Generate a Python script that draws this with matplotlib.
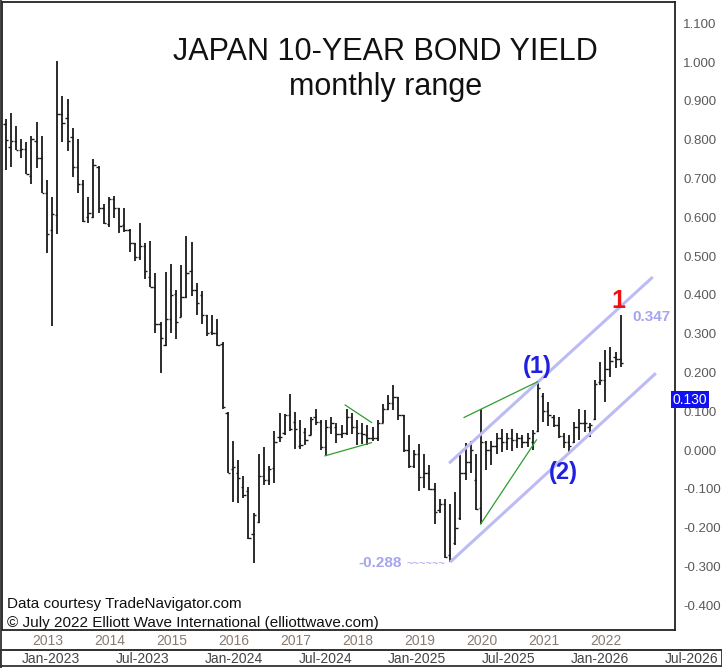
import numpy as np
import matplotlib
matplotlib.use("Agg")
import matplotlib.pyplot as plt
from matplotlib.lines import Line2D
import matplotlib.transforms as mtransforms

plt.rcParams['font.family'] = ['Liberation Sans', 'DejaVu Sans']

# monthly bars, Jul-2012 .. Jun-2022 (months counted from Jan-2012 = 0)
first_month = 6
opens = [0.840, 0.782, 0.796, 0.773, 0.776, 0.706, 0.796, 0.752, 0.662, 0.567,
         0.606, 0.866, 0.855, 0.807, 0.729, 0.687, 0.601, 0.601, 0.730, 0.623,
         0.582, 0.646, 0.623, 0.580, 0.567, 0.534, 0.497, 0.526, 0.447, 0.420,
         0.326, 0.270, 0.337, 0.402, 0.342, 0.394, 0.462, 0.412, 0.399, 0.347,
         0.305, 0.302, 0.273, 0.096, -0.050, -0.060, -0.095, -0.105, -0.216, -0.185,
         -0.067, -0.077, -0.047, 0.033, 0.045, 0.090, 0.073, 0.010, 0.047, 0.040,
         0.086, 0.073, 0.009, 0.060, 0.060, 0.041, 0.045, 0.086, 0.060, 0.045,
         0.040, 0.030, 0.030, 0.069, 0.105, 0.120, 0.137, 0.090, 0.000, -0.040,
         -0.010, -0.070, -0.060, -0.100, -0.155, -0.140, -0.270, -0.240, -0.175, -0.060,
         -0.030, -0.077, -0.150, 0.020, 0.000, 0.010, 0.030, 0.020, 0.030, 0.025,
         0.030, 0.020, 0.020, 0.050, 0.140, 0.100, 0.085, 0.065, 0.035, 0.020,
         0.020, 0.060, 0.070, 0.060, 0.080, 0.175, 0.180, 0.210, 0.240, 0.235]
highs = [0.853, 0.870, 0.836, 0.801, 0.793, 0.809, 0.846, 0.809, 0.696, 0.653,
         1.003, 0.913, 0.904, 0.829, 0.803, 0.696, 0.653, 0.750, 0.732, 0.634,
         0.653, 0.655, 0.625, 0.623, 0.571, 0.534, 0.586, 0.533, 0.539, 0.457,
         0.331, 0.459, 0.479, 0.412, 0.477, 0.552, 0.537, 0.430, 0.410, 0.348,
         0.347, 0.339, 0.279, 0.099, 0.024, -0.026, -0.067, -0.095, -0.162, -0.010,
         0.009, -0.041, 0.050, 0.095, 0.094, 0.144, 0.099, 0.077, 0.056, 0.086,
         0.105, 0.077, 0.077, 0.086, 0.070, 0.064, 0.105, 0.095, 0.077, 0.069,
         0.064, 0.060, 0.077, 0.119, 0.142, 0.168, 0.137, 0.090, 0.039, 0.000,
         0.015, -0.009, -0.039, -0.086, -0.125, -0.125, -0.139, -0.107, -0.013, 0.019,
         0.024, -0.009, 0.105, 0.022, 0.022, 0.045, 0.053, 0.045, 0.053, 0.045,
         0.039, 0.045, 0.052, 0.176, 0.148, 0.125, 0.090, 0.086, 0.045, 0.039,
         0.073, 0.107, 0.103, 0.069, 0.180, 0.228, 0.258, 0.266, 0.253, 0.348]
lows = [0.722, 0.730, 0.773, 0.754, 0.711, 0.687, 0.726, 0.662, 0.507, 0.320,
        0.558, 0.795, 0.771, 0.704, 0.662, 0.588, 0.584, 0.597, 0.610, 0.582,
        0.574, 0.597, 0.560, 0.563, 0.511, 0.488, 0.491, 0.440, 0.421, 0.301,
        0.198, 0.268, 0.301, 0.285, 0.342, 0.391, 0.397, 0.348, 0.325, 0.294,
        0.296, 0.268, 0.107, -0.060, -0.133, -0.136, -0.124, -0.230, -0.290, -0.187,
        -0.090, -0.090, -0.084, 0.021, 0.039, 0.050, 0.002, 0.002, 0.012, 0.039,
        0.064, 0.000, -0.013, 0.041, 0.017, 0.030, 0.039, 0.041, 0.013, 0.015,
        0.013, 0.022, 0.024, 0.069, 0.103, 0.103, 0.077, -0.004, -0.047, -0.047,
        -0.105, -0.099, -0.103, -0.191, -0.163, -0.279, -0.288, -0.245, -0.180, -0.077,
        -0.060, -0.155, -0.191, -0.052, -0.039, -0.009, -0.004, 0.000, -0.002, 0.004,
        0.004, 0.009, 0.000, 0.047, 0.073, 0.062, 0.060, 0.030, 0.004, -0.004,
        0.017, 0.026, 0.047, 0.034, 0.077, 0.168, 0.125, 0.189, 0.211, 0.215]
closes = [0.800, 0.796, 0.773, 0.776, 0.711, 0.803, 0.752, 0.662, 0.557, 0.608,
          0.866, 0.844, 0.796, 0.729, 0.686, 0.591, 0.612, 0.735, 0.623, 0.585,
          0.646, 0.623, 0.577, 0.567, 0.534, 0.497, 0.526, 0.462, 0.421, 0.326,
          0.288, 0.337, 0.399, 0.331, 0.395, 0.457, 0.412, 0.378, 0.348, 0.302,
          0.301, 0.271, 0.110, -0.058, -0.043, -0.073, -0.116, -0.228, -0.168, -0.067,
          -0.077, -0.050, 0.021, 0.034, 0.090, 0.053, 0.053, 0.012, 0.025, 0.079,
          0.073, 0.009, 0.060, 0.069, 0.041, 0.045, 0.086, 0.060, 0.045, 0.041,
          0.030, 0.030, 0.069, 0.105, 0.120, 0.137, 0.090, 0.000, -0.040, -0.010,
          -0.070, -0.060, -0.100, -0.160, -0.140, -0.275, -0.280, -0.200, -0.060, -0.030,
          0.000, -0.153, 0.020, 0.000, 0.010, 0.030, 0.020, 0.030, 0.025, 0.030,
          0.020, 0.030, 0.045, 0.160, 0.100, 0.090, 0.065, 0.035, 0.020, 0.010,
          0.060, 0.070, 0.070, 0.065, 0.170, 0.180, 0.210, 0.230, 0.235, 0.225]

year_labels = ['2013', '2014', '2015', '2016', '2017', '2018', '2019', '2020', '2021', '2022']
lower_labels = ['Jan-2023', 'Jul-2023', 'Jan-2024', 'Jul-2024',
                'Jan-2025', 'Jul-2025', 'Jan-2026', 'Jul-2026']
ytick_vals = [1.1, 1.0, 0.9, 0.8, 0.7, 0.6, 0.5, 0.4, 0.3, 0.2, 0.1, 0.0,
              -0.1, -0.2, -0.3, -0.4]

# channel + pattern lines (month, yield)
chan_up = ([91.8, 131.2], [-0.034, 0.446])
chan_lo = ([92.0, 131.8], [-0.289, 0.198])
tri_up = ([71.7, 76.8], [0.116, 0.071])
tri_lo = ([67.8, 76.8], [-0.015, 0.019])
wedge_up = ([94.7, 108.9], [0.084, 0.176])
wedge_lo = ([97.9, 108.7], [-0.191, 0.026])

W, H = 722, 668
fig = plt.figure(figsize=(W / 100, H / 100), dpi=100)
ax = fig.add_axes([2 / W, 38 / H, 673 / W, 628 / H])

x = np.arange(first_month, first_month + len(highs))
bar_col = '#1a1a1a'
ax.vlines(x, lows, highs, color=bar_col, lw=1.3)
ax.hlines(opens, x - 0.45, x, color=bar_col, lw=1.0)
ax.hlines(closes, x, x + 0.45, color=bar_col, lw=1.0)

lav = '#bcbcf4'
ax.plot(*chan_up, color=lav, lw=2.2, solid_capstyle='butt')
ax.plot(*chan_lo, color=lav, lw=2.2, solid_capstyle='butt')
green = '#2e9e2e'
for seg in (tri_up, tri_lo, wedge_up, wedge_lo):
    ax.plot(*seg, color=green, lw=0.9)

ax.set_xlim(5.32, 135.5)
ax.set_ylim(-0.464, 1.155)

ax.yaxis.tick_right()
ax.set_yticks(ytick_vals)
ax.set_yticklabels([f'{v:.3f}' for v in ytick_vals])
ax.tick_params(axis='y', length=0, pad=6, labelsize=9.5, labelcolor='#5a5a5a')
ax.set_xticks([12 * (i + 1) + 2.2 for i in range(len(year_labels))])
ax.set_xticklabels(year_labels)
ax.tick_params(axis='x', length=0, pad=3, labelsize=10, labelcolor='#8a7a70')
for s in ax.spines.values():
    s.set_linewidth(1.3)
    s.set_color('#222222')

# title
ax.text(0.57, 1.0 - 58 / 628, 'JAPAN 10-YEAR BOND YIELD', transform=ax.transAxes,
        ha='center', va='baseline', fontsize=22, color='#111111')
ax.text(0.57, 1.0 - 93 / 628, 'monthly range', transform=ax.transAxes,
        ha='center', va='baseline', fontsize=22, color='#111111')

# wave labels
ax.text(108.8, 0.216, '(1)', ha='center', va='center', fontsize=17,
        fontweight='bold', color='#2020e0')
ax.text(114.0, -0.057, '(2)', ha='center', va='center', fontsize=17,
        fontweight='bold', color='#2020e0')
ax.text(124.5, 0.384, '1', ha='center', va='center', fontsize=18,
        fontweight='bold', color='#ee1111')
ax.text(131.0, 0.343, '0.347', ha='center', va='center', fontsize=11,
        fontweight='bold', color='#a5a5f0')
ax.text(78.4, -0.291, '-0.288', ha='center', va='center', fontsize=11,
        fontweight='bold', color='#a5a5f0')
ax.text(83.5, -0.294, '~~~~~~', ha='left', va='center', fontsize=8,
        color='#a5a5f0')

# last value box on the right scale
trans = mtransforms.blended_transform_factory(ax.transAxes, ax.transData)
ax.text(0.996, 0.130, '0.130', transform=trans, ha='left', va='center',
        fontsize=10, color='white',
        bbox=dict(boxstyle='square,pad=0.12', fc='#1010f0', ec='none'))

ax.text(0.007, 1.0 - 606 / 628, 'Data courtesy TradeNavigator.com',
        transform=ax.transAxes, ha='left', va='baseline', fontsize=11,
        color='#111111')
ax.text(0.007, 1.0 - 625 / 628,
        '\u00a9 July 2022 Elliott Wave International (elliottwave.com)',
        transform=ax.transAxes, ha='left', va='baseline', fontsize=11,
        color='#111111')

# lower date strip
ax2 = fig.add_axes([0, 2 / H, 1, 16 / H])
ax2.set_xlim(-51 / 15.25, (W - 51) / 15.25)
ax2.set_ylim(0, 1)
for i, lab in enumerate(lower_labels):
    ax2.text(6 * i, 0.45, lab, ha='center', va='center', fontsize=10,
             color='#444444')
ax2.set_xticks([])
ax2.set_yticks([])
for s in ax2.spines.values():
    s.set_linewidth(1.3)
    s.set_color('#333333')

fig.add_artist(Line2D([0, 1], [1 - 650 / H, 1 - 650 / H], color='#333333', lw=1.3))
fig.add_artist(Line2D([1 / W, 1 / W], [0, 1], color='#333333', lw=1.3))

fig.savefig('out.png', dpi=100)
